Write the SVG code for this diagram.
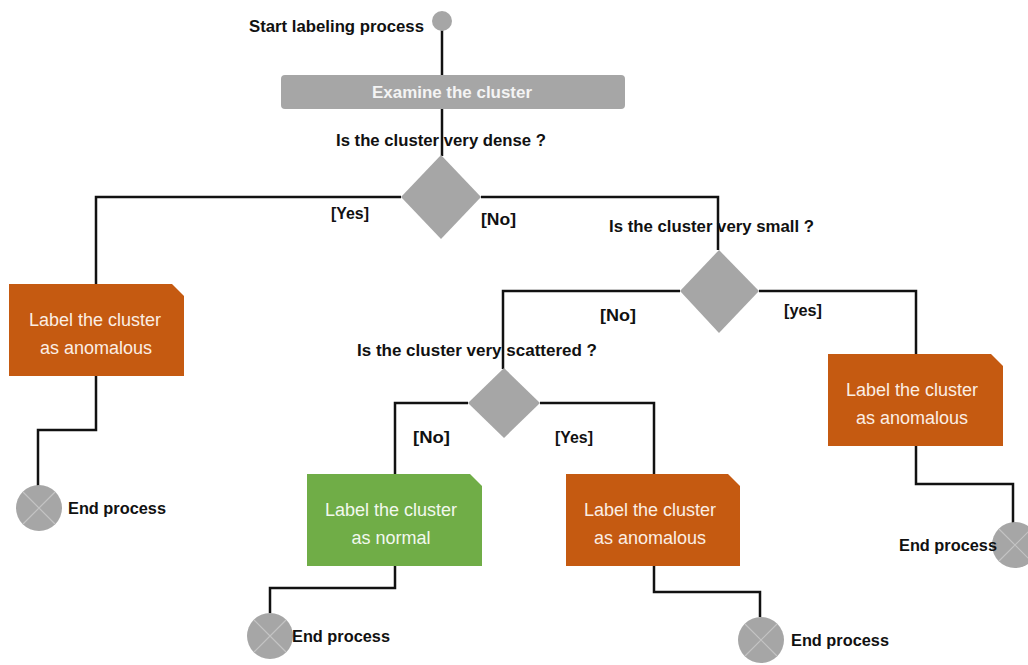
<svg xmlns="http://www.w3.org/2000/svg" width="1028" height="665" viewBox="0 0 1028 665">
<style>
.conn{fill:none;stroke:#111;stroke-width:2.5;stroke-linejoin:miter}
.lbl{font-family:"Liberation Sans",Arial,sans-serif;font-weight:bold;font-size:17px;fill:#111}
.box{font-family:"Liberation Sans",Arial,sans-serif;font-size:18px;fill:#fbeee4;text-anchor:middle}
.gbox{font-family:"Liberation Sans",Arial,sans-serif;font-size:18px;fill:#f2f8ee;text-anchor:middle}
.gray{fill:#a6a6a6}
.orange{fill:#c55a11}
.green{fill:#70ad47}
.x{stroke:#c4c4c4;stroke-width:1.2}
</style>
<rect width="1028" height="665" fill="#fff"/>
<g id="connectors">
<path class="conn" d="M442 21 V76"/>
<path class="conn" d="M442 108 V156"/>
<path class="conn" d="M401 197 H96 V285"/>
<path class="conn" d="M481 197 H718 V250"/>
<path class="conn" d="M96 376 V430 H38 V486"/>
<path class="conn" d="M759 291 H916 V355"/>
<path class="conn" d="M680 291 H503 V369"/>
<path class="conn" d="M916 446 V484 H1013 V523"/>
<path class="conn" d="M468 403 H395 V474"/>
<path class="conn" d="M540 403 H654 V474"/>
<path class="conn" d="M395 566 V588 H270 V613"/>
<path class="conn" d="M654 566 V592 H760 V617"/>
</g>
<g id="start">
<circle class="gray" cx="442" cy="21" r="10"/>
<text class="lbl" x="249" y="32" textLength="175" lengthAdjust="spacingAndGlyphs">Start labeling process</text>
</g>
<g id="examine">
<rect class="gray" x="281" y="75" width="344" height="34" rx="4"/>
<text x="452" y="98" font-family="Liberation Sans,Arial,sans-serif" font-weight="bold" font-size="17" fill="#f4f4f4" text-anchor="middle" textLength="160" lengthAdjust="spacingAndGlyphs">Examine the cluster</text>
</g>
<g id="q-dense">
<text class="lbl" x="336" y="146" textLength="210" lengthAdjust="spacingAndGlyphs">Is the cluster very dense ?</text>
<polygon class="gray" points="441,155 481,197 441,239 401,197"/>
<text class="lbl" x="331" y="219" textLength="38" lengthAdjust="spacingAndGlyphs">[Yes]</text>
<text class="lbl" x="481" y="225" textLength="35" lengthAdjust="spacingAndGlyphs">[No]</text>
</g>
<g id="anom-left">
<polygon class="orange" points="9,284 172,284 184,296 184,376 9,376"/>
<text class="box" x="95" y="326">Label the cluster</text>
<text class="box" x="96" y="354">as anomalous</text>
</g>
<g id="end-left">
<circle class="gray" cx="39" cy="508" r="23"/>
<path class="x" d="M23 492 L55 524 M55 492 L23 524"/>
<text class="lbl" x="68" y="514" textLength="98" lengthAdjust="spacingAndGlyphs">End process</text>
</g>
<g id="q-small">
<text class="lbl" x="609" y="232" textLength="205" lengthAdjust="spacingAndGlyphs">Is the cluster very small ?</text>
<polygon class="gray" points="719,250 759,291 719,333 680,291"/>
<text class="lbl" x="600" y="321" textLength="36" lengthAdjust="spacingAndGlyphs">[No]</text>
<text class="lbl" x="784" y="316" textLength="38" lengthAdjust="spacingAndGlyphs">[yes]</text>
</g>
<g id="anom-right">
<polygon class="orange" points="828,354 991,354 1003,366 1003,446 828,446"/>
<text class="box" x="912" y="396">Label the cluster</text>
<text class="box" x="912" y="424">as anomalous</text>
</g>
<g id="end-right">
<circle class="gray" cx="1015" cy="545" r="23"/>
<path class="x" d="M999 529 L1031 561 M1031 529 L999 561"/>
<text class="lbl" x="899" y="551" textLength="98" lengthAdjust="spacingAndGlyphs">End process</text>
</g>
<g id="q-scattered">
<text class="lbl" x="357" y="356" textLength="240" lengthAdjust="spacingAndGlyphs">Is the cluster very scattered ?</text>
<polygon class="gray" points="504,368 540,403 504,438 468,403"/>
<text class="lbl" x="413" y="443" textLength="37" lengthAdjust="spacingAndGlyphs">[No]</text>
<text class="lbl" x="555" y="443" textLength="38" lengthAdjust="spacingAndGlyphs">[Yes]</text>
</g>
<g id="normal">
<polygon class="green" points="307,474 470,474 482,486 482,566 307,566"/>
<text class="gbox" x="391" y="516">Label the cluster</text>
<text class="gbox" x="391" y="544">as normal</text>
</g>
<g id="anom-mid">
<polygon class="orange" points="566,474 728,474 740,486 740,566 566,566"/>
<text class="box" x="650" y="516">Label the cluster</text>
<text class="box" x="650" y="544">as anomalous</text>
</g>
<g id="end-normal">
<circle class="gray" cx="270" cy="636" r="23"/>
<path class="x" d="M254 620 L286 652 M286 620 L254 652"/>
<text class="lbl" x="292" y="642" textLength="98" lengthAdjust="spacingAndGlyphs">End process</text>
</g>
<g id="end-mid">
<circle class="gray" cx="761" cy="640" r="23"/>
<path class="x" d="M745 624 L777 656 M777 624 L745 656"/>
<text class="lbl" x="791" y="646" textLength="98" lengthAdjust="spacingAndGlyphs">End process</text>
</g>
</svg>
